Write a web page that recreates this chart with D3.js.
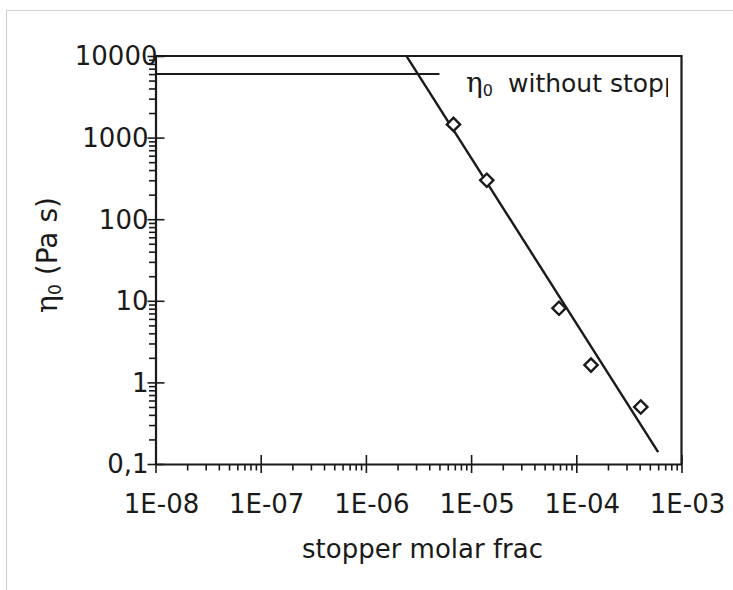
<!DOCTYPE html>
<html lang="en">
<head>
<meta charset="UTF-8">
<title>eta0 vs stopper</title>
<style>
    body { margin: 0; background: #fff; }
    svg { display: block; }
    .lbl { font-family: "DejaVu Sans", sans-serif; fill: #1a1a1a; }
</style>
</head>
<body>
<svg id="SVG"></svg>
<script src="https://d3js.org/d3.v7.min.js"></script>
<script>
    // data
    var xMajor = [1e-8, 1e-7, 1e-6, 1e-5, 1e-4, 1e-3];
    var xLabels = ["1E-08", "1E-07", "1E-06", "1E-05", "1E-04", "1E-03"];
    var yMajor = [0.1, 1, 10, 100, 1000, 10000];
    var yLabels = ["0,1", "1", "10", "100", "1000", "10000"];

    var stopperFrac = [6.8e-6, 1.41e-5, 6.85e-5, 1.38e-4, 4.1e-4];
    var eta0 = [1450, 300, 8.1, 1.63, 0.5];

    // fitted power law, end points
    var fitX = [2.45e-6, 6.0e-4];
    var fitY = [9800, 0.14];

    // plateau without stopper
    var plateauX = [1e-8, 5e-6];
    var plateauY = 6000;

    var width = 733, height = 590;
    var mLeft = 155.5, mRight = 681.5, mTop = 56, mBottom = 464;
    var ink = "#1a1a1a";

    var svg = d3.select("#SVG").attr("width", width).attr("height", height);

    // light grey frame of the picture
    svg.append("path")
        .attr("d", "M6.5," + height + " V10.5 H" + width)
        .attr("fill", "none").attr("stroke", "#d2d2d2").attr("stroke-width", 1.2);

    var x = d3.scaleLog().domain([1e-8, 1e-3]).range([mLeft, mRight]);
    var y = d3.scaleLog().domain([0.1, 10000]).range([mBottom, mTop]);

    function minors(lo, hi) {
        var out = [];
        for (var e = lo; e < hi; e++)
            for (var k = 2; k <= 9; k++) out.push(k * Math.pow(10, e));
        return out;
    }
    function isMajor(v) { return Math.abs(Math.log10(v) - Math.round(Math.log10(v))) < 1e-9; }

    // ---- box (top and right) ----
    svg.append("path")
        .attr("d", "M" + mLeft + "," + mTop + " H" + mRight + " V" + mBottom)
        .attr("fill", "none").attr("stroke", ink).attr("stroke-width", 2.2);

    // ---- y axis ----
    var yTicks = yMajor.concat(minors(-1, 4));
    var gy = svg.append("g")
        .attr("transform", "translate(" + mLeft + ",0)")
        .call(d3.axisLeft(y).tickValues(yTicks).tickSizeOuter(0).tickFormat(""));
    gy.select(".domain").attr("stroke", ink).attr("stroke-width", 2.2);
    gy.selectAll(".tick line")
        .attr("stroke", ink).attr("stroke-width", 1.6)
        .attr("x1", d => isMajor(d) ? 9 : 0)
        .attr("x2", d => isMajor(d) ? -8 : -6.5);

    svg.append("g").selectAll("text")
        .data(yMajor)
        .enter().append("text")
        .attr("class", "lbl")
        .attr("x", d => d >= 10000 ? mLeft + 2 : mLeft - 7)
        .attr("y", d => y(d))
        .attr("dy", "0.36em")
        .attr("text-anchor", "end")
        .attr("font-size", 26)
        .text((d, i) => yLabels[i]);

    // ---- x axis ----
    var xTicks = xMajor.concat(minors(-8, -3));
    var gx = svg.append("g")
        .attr("transform", "translate(0," + mBottom + ")")
        .call(d3.axisBottom(x).tickValues(xTicks).tickSizeOuter(0).tickFormat(""));
    gx.select(".domain").attr("stroke", ink).attr("stroke-width", 2.2);
    gx.selectAll(".tick line")
        .attr("stroke", ink).attr("stroke-width", 1.6)
        .attr("y1", d => isMajor(d) ? -9 : 0)
        .attr("y2", d => isMajor(d) ? 9 : 6.5);

    svg.append("g").selectAll("text")
        .data(xMajor)
        .enter().append("text")
        .attr("class", "lbl")
        .attr("x", d => x(d) + 6)
        .attr("y", mBottom + 49)
        .attr("text-anchor", "middle")
        .attr("font-size", 26)
        .text((d, i) => xLabels[i]);

    // ---- lines ----
    svg.append("line")
        .attr("x1", x(plateauX[0])).attr("x2", x(plateauX[1]))
        .attr("y1", y(plateauY)).attr("y2", y(plateauY))
        .attr("stroke", ink).attr("stroke-width", 2);

    svg.append("line")
        .attr("x1", x(fitX[0])).attr("y1", y(fitY[0]))
        .attr("x2", x(fitX[1])).attr("y2", y(fitY[1]))
        .attr("stroke", ink).attr("stroke-width", 2.4);

    // ---- points: open diamonds ----
    var diamond = d3.symbol().type(d3.symbolSquare).size(88);
    svg.append("g").selectAll("path")
        .data(stopperFrac)
        .enter().append("path")
        .attr("d", diamond)
        .attr("transform", (d, i) => "translate(" + x(d) + "," + y(eta0[i]) + ") rotate(45)")
        .attr("fill", "#fff").attr("stroke", ink).attr("stroke-width", 2.4);

    // ---- texts ----
    var defs = svg.append("defs");
    defs.append("clipPath").attr("id", "clipNote")
        .append("rect").attr("x", 0).attr("y", 0).attr("width", 668).attr("height", height);
    defs.append("clipPath").attr("id", "clipTitle")
        .append("rect").attr("x", 0).attr("y", 0).attr("width", 542).attr("height", height);

    var note = svg.append("text")
        .attr("class", "lbl")
        .attr("clip-path", "url(#clipNote)")
        .attr("x", 466).attr("y", 92)
        .attr("font-size", 25);
    note.append("tspan").attr("font-family", "DejaVu Serif, serif").attr("font-size", 28).text("η");
    note.append("tspan").attr("font-size", 16).attr("dy", 4).text("0");
    note.append("tspan").attr("x", 508).attr("dy", -4).text("without stopper");

    svg.append("text")
        .attr("class", "lbl")
        .attr("clip-path", "url(#clipTitle)")
        .attr("x", 302).attr("y", 558)
        .attr("font-size", 26)
        .text("stopper molar fraction");

    var yt = svg.append("text")
        .attr("class", "lbl")
        .attr("transform", "translate(57,255) rotate(-90)")
        .attr("text-anchor", "middle")
        .attr("font-size", 28);
    yt.append("tspan").attr("font-family", "DejaVu Serif, serif").attr("font-size", 30).text("η");
    yt.append("tspan").attr("font-size", 17).attr("dy", 4).text("0");
    yt.append("tspan").attr("dy", -4).text(" (Pa s)");
</script>
</body>
</html>
